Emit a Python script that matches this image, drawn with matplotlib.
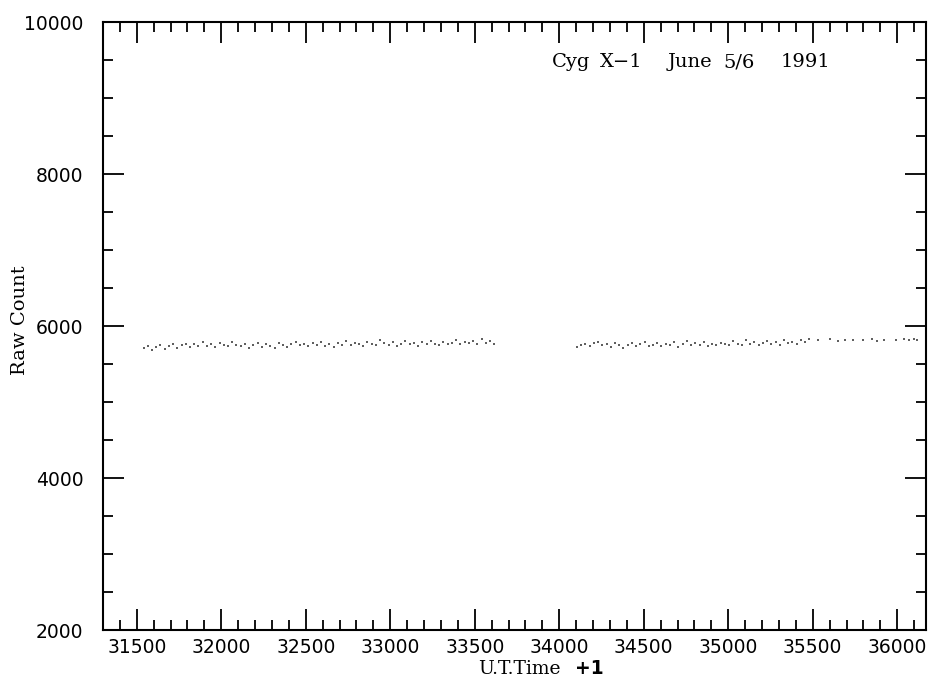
import numpy as np
import matplotlib
matplotlib.use("Agg")
import matplotlib.pyplot as plt
from matplotlib.ticker import MultipleLocator

# first block of observations (time, raw count)
t1 = [31540, 31565, 31590, 31615, 31640, 31665, 31690, 31715, 31740, 31765,
      31790, 31815, 31840, 31865, 31890, 31915, 31940, 31965, 31990, 32015,
      32040, 32065, 32090, 32115, 32140, 32165, 32190, 32215, 32240, 32265,
      32290, 32315, 32340, 32365, 32390, 32415, 32440, 32465, 32490, 32515,
      32540, 32565, 32590, 32615, 32640, 32665, 32690, 32715, 32740, 32765,
      32790, 32815, 32840, 32865, 32890, 32915, 32940, 32965, 32990, 33015,
      33040, 33065, 33090, 33115, 33140, 33165, 33190, 33215, 33240, 33265,
      33290, 33315, 33340, 33365, 33390, 33415, 33440, 33465, 33490, 33515,
      33540, 33565, 33590, 33615]
c1 = [5705, 5740, 5690, 5722, 5748, 5700, 5731, 5758, 5715, 5745,
      5770, 5728, 5760, 5742, 5785, 5735, 5762, 5721, 5774, 5750,
      5738, 5790, 5756, 5733, 5768, 5710, 5747, 5779, 5725, 5760,
      5742, 5716, 5773, 5751, 5730, 5764, 5789, 5745, 5758, 5737,
      5776, 5752, 5795, 5741, 5768, 5729, 5783, 5757, 5806, 5744,
      5771, 5760, 5738, 5792, 5765, 5749, 5812, 5774, 5752, 5787,
      5733, 5769, 5798, 5758, 5776, 5741, 5785, 5762, 5803, 5770,
      5751, 5794, 5766, 5781, 5820, 5759, 5788, 5772, 5805, 5763,
      5830, 5779, 5797, 5768]

# second block, after the gap
t2 = [34105, 34130, 34155, 34180, 34205, 34230, 34255, 34280, 34305, 34330,
      34355, 34380, 34405, 34430, 34455, 34480, 34505, 34530, 34555, 34580,
      34605, 34630, 34655, 34680, 34705, 34730, 34755, 34780, 34805, 34830,
      34855, 34880, 34905, 34930, 34955, 34980, 35005, 35030, 35055, 35080,
      35105, 35130, 35155, 35180, 35205, 35230, 35255, 35280, 35305, 35330,
      35355, 35380, 35405, 35430, 35455, 35480,
      35530, 35600, 35650, 35690, 35740, 35800, 35850, 35880, 35920, 35990,
      36040, 36070, 36100, 36120]
c2 = [5725, 5748, 5760, 5735, 5772, 5790, 5744, 5766, 5730, 5781,
      5756, 5712, 5748, 5775, 5738, 5763, 5794, 5741, 5757, 5779,
      5733, 5768, 5750, 5786, 5728, 5760, 5809, 5745, 5772, 5755,
      5791, 5738, 5766, 5748, 5783, 5760, 5744, 5799, 5770, 5752,
      5815, 5764, 5788, 5749, 5776, 5803, 5768, 5792, 5757, 5822,
      5781, 5796, 5769, 5811, 5788, 5830,
      5815, 5830, 5805, 5822, 5810, 5818, 5826, 5808, 5820, 5812,
      5828, 5815, 5823, 5810]

xmajor = [31500, 32000, 32500, 33000, 33500, 34000, 34500, 35000, 35500, 36000]
ymajor = [2000, 4000, 6000, 8000, 10000]

# words of the annotation and where each one starts (axes fraction)
note_words = ["Cyg", "X\u22121", "June", "5/6", "1991"]
note_x = [0.546, 0.604, 0.686, 0.754, 0.824]

fig = plt.figure(figsize=(9.32, 6.77), dpi=100)
ax = fig.add_axes([0.1105, 0.0694, 0.883, 0.898])

ax.plot(t1, c1, linestyle="none", marker="s", markersize=1.5, color="#606060", mew=0)
ax.plot(t2, c2, linestyle="none", marker="s", markersize=1.5, color="#606060", mew=0)

ax.set_xlim(31300, 36170)
ax.set_ylim(2000, 10000)
ax.set_xticks(xmajor)
ax.set_yticks(ymajor)
ax.xaxis.set_minor_locator(MultipleLocator(100))
ax.yaxis.set_minor_locator(MultipleLocator(500))
ax.tick_params(which="both", direction="in", top=True, right=True, width=1.3)
ax.tick_params(which="major", length=15, labelsize=13.5)
ax.tick_params(axis="x", which="major", pad=6)
ax.tick_params(axis="y", which="major", pad=14)
ax.tick_params(which="minor", length=7)
for s in ax.spines.values():
    s.set_linewidth(1.5)

fig.text(0.021, 0.527, "Raw Count", family="DejaVu Serif", fontsize=14,
         rotation=90, ha="center", va="center")
fig.text(0.513, 0.004, "U.T.Time", family="DejaVu Serif", fontsize=13.5, ha="left", va="baseline")
fig.text(0.617, 0.004, "+1", family="DejaVu Sans", fontsize=13.5, fontweight="bold",
         ha="left", va="baseline")
for w, x in zip(note_words, note_x):
    ax.text(x, 0.934, w, transform=ax.transAxes, family="DejaVu Serif",
            fontsize=14, va="center", ha="left")

fig.savefig("out.png", dpi=100)
